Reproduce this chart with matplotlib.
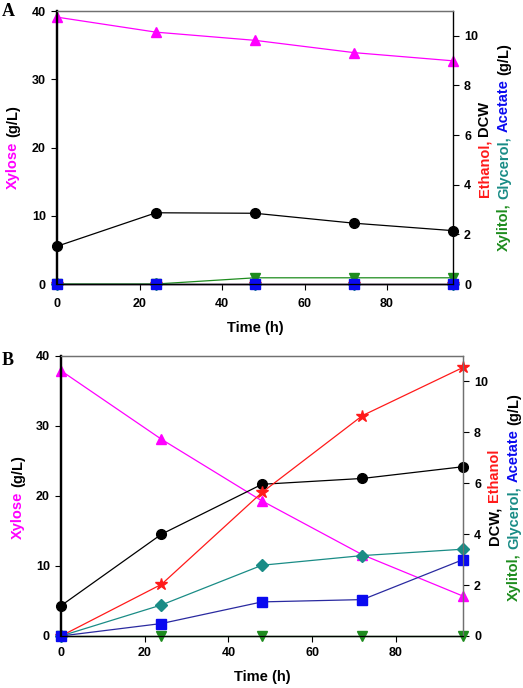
"""
Two-panel xylose fermentation time course (A and B), twin y axes.
"""

import matplotlib
matplotlib.use("Agg")
import matplotlib.pyplot as plt
from matplotlib.transforms import IdentityTransform

plt.rcParams['font.family'] = ['Liberation Sans', 'DejaVu Sans']
plt.rcParams['font.weight'] = 'bold'

W, H = 523, 688

# Data
time_h = [0, 24, 48, 72, 96]

# Panel A
a_xylose = [39.1, 36.9, 35.7, 33.9, 32.7]
a_dcw = [1.52, 2.87, 2.85, 2.45, 2.15]
a_ethanol = [0, 0, 0, 0, 0]
a_glycerol = [0, 0, 0, 0, 0]
a_xylitol = [0, 0, 0.25, 0.25, 0.25]
a_acetate = [0, 0, 0, 0, 0]

# Panel B
b_xylose = [37.9, 28.1, 19.3, 11.6, 5.7]
b_dcw = [1.19, 4.0, 5.96, 6.19, 6.65]
b_ethanol = [0, 2.03, 5.64, 8.66, 10.55]
b_glycerol = [0, 1.22, 2.78, 3.16, 3.41]
b_xylitol = [0, 0, 0, 0, 0]
b_acetate = [0, 0.49, 1.34, 1.43, 3.0]

MAGENTA = '#FF00FF'
RED = '#FF1A1A'
TEAL = '#1A8C86'
GREEN = '#1E8C1E'
BLUE = '#0A0AF0'
NAVY = '#2A2AA0'


def vertical_label(fig, x, yc, pieces, size):
    # multi-coloured rotated label, pieces placed bottom to top, x = baseline (pixels)
    r = fig.canvas.get_renderer()
    def width(s):
        t = fig.text(0, 0, s, fontsize=size, fontweight='bold')
        w = t.get_window_extent(r).width
        t.remove()
        return w
    gap = width('a a') - width('aa')
    lens = [width(s) for s, c in pieces]
    total = sum(lens) + gap * (len(pieces) - 1)
    y = yc - total / 2
    for (s, c), L in zip(pieces, lens):
        fig.text(x, y, s, color=c, fontsize=size, fontweight='bold', rotation=90,
                 rotation_mode='anchor', ha='left', va='baseline',
                 transform=IdentityTransform())
        y += L + gap


def panel(fig, rect, xylose, dcw, ethanol, glycerol, xylitol, acetate, xpad):
    ax = fig.add_axes(rect)
    ax2 = ax.twinx()

    ax.plot(time_h, xylose, color=MAGENTA, lw=0.9, marker='^', ms=7, mfc=MAGENTA, mec=MAGENTA)

    ax2.plot(time_h, dcw, color='black', lw=0.9, marker='o', ms=7)
    ax2.plot(time_h, ethanol, color=RED, lw=0.9, marker='*', ms=9, mec=RED, mfc=RED)
    ax2.plot(time_h, glycerol, color=TEAL, lw=0.9, marker='D', ms=6, mfc=TEAL, mec=TEAL)
    ax2.plot(time_h, xylitol, color=GREEN, lw=0.9, marker='v', ms=7, mfc=GREEN, mec=GREEN)
    ax2.plot(time_h, acetate, color=NAVY, lw=0.9, marker='s', ms=6.5, mfc=BLUE, mec=BLUE)

    ax.set_xlim(0, 96)
    ax.set_ylim(0, 40)
    ax2.set_ylim(0, 11)
    ax.set_xticks([0, 20, 40, 60, 80])
    ax.set_yticks([0, 10, 20, 30, 40])
    ax2.set_yticks([0, 2, 4, 6, 8, 10])
    for a in (ax, ax2):
        a.tick_params(direction='out', length=4, width=0.8, labelsize=9, pad=4)
        for s in a.spines.values():
            s.set_color('#707070')
            s.set_linewidth(0.9)
        a.spines['left'].set_color('black')
        a.spines['left'].set_linewidth(1.6)
        a.spines['bottom'].set_color('black')
    ax.tick_params(axis='x', pad=xpad)
    ax.set_xlabel('Time (h)', fontsize=10.5, fontweight='bold', labelpad=8)
    for lab in ax.get_xticklabels() + ax.get_yticklabels() + ax2.get_yticklabels():
        lab.set_fontweight('bold')
    for ln in ax.lines + ax2.lines:
        ln.set_clip_on(False)
    return ax, ax2


fig = plt.figure(figsize=(W / 100, H / 100), dpi=100)

# Panel A
axA, axA2 = panel(fig, [57 / W, 1 - 284 / H, (453 - 57) / W, 273 / H],
                  a_xylose, a_dcw, a_ethanol, a_glycerol, a_xylitol, a_acetate, 6)
axA2.spines['right'].set_color('black')
fig.text(2 / W, 1 - 3 / H, 'A', family=['Liberation Serif'], fontweight='bold',
         fontsize=13, ha='left', va='top')

# Panel B
axB, axB2 = panel(fig, [61 / W, 1 - 636 / H, (463 - 61) / W, 280 / H],
                  b_xylose, b_dcw, b_ethanol, b_glycerol, b_xylitol, b_acetate, 4)
fig.text(2 / W, 1 - 352 / H, 'B', family=['Liberation Serif'], fontweight='bold',
         fontsize=13, ha='left', va='top')

fig.canvas.draw()

# Axis labels (pixel positions, y measured from bottom)
vertical_label(fig, 17, H - 147, [('Xylose', MAGENTA), ('(g/L)', 'black')], 10.5)
vertical_label(fig, 488, H - 149, [('Ethanol,', RED), ('DCW', 'black')], 10.5)
vertical_label(fig, 508, H - 147, [('Xylitol,', GREEN), ('Glycerol,', TEAL),
                                   ('Acetate', BLUE), ('(g/L)', 'black')], 10.5)

vertical_label(fig, 22, H - 497, [('Xylose', MAGENTA), ('(g/L)', 'black')], 10.5)
vertical_label(fig, 498, H - 497, [('DCW,', 'black'), ('Ethanol', RED)], 10.5)
vertical_label(fig, 518, H - 497, [('Xylitol,', GREEN), ('Glycerol,', TEAL),
                                   ('Acetate', BLUE), ('(g/L)', 'black')], 10.5)

fig.savefig('out.png', dpi=100)
